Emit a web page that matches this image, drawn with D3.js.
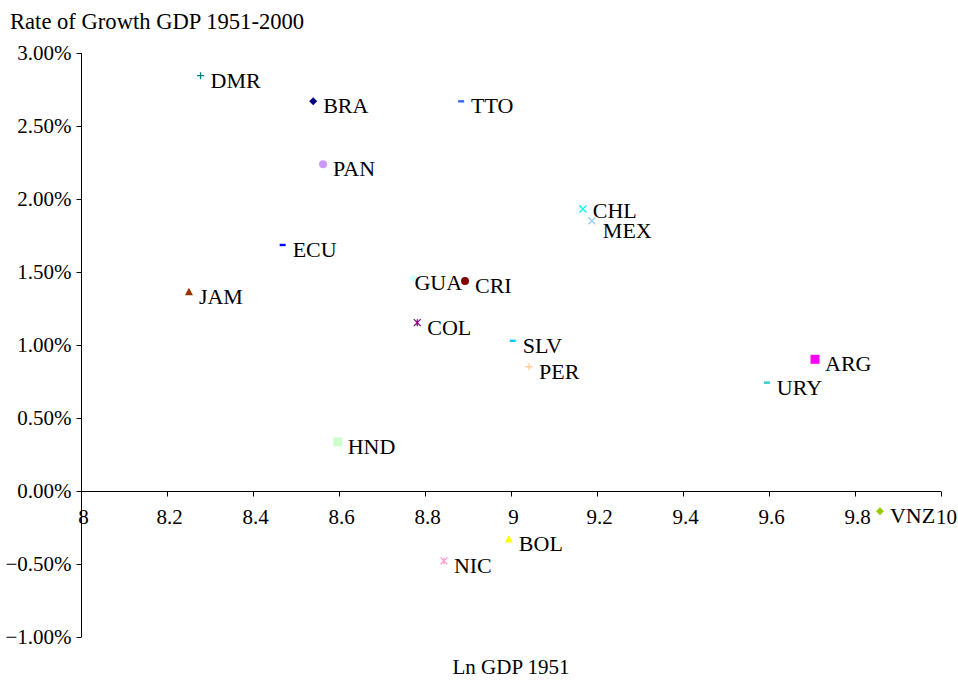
<!DOCTYPE html>
<html><head><meta charset="utf-8">
<script src="https://cdn.jsdelivr.net/npm/d3@7"></script>
<style>body{margin:0;background:#fff}svg{display:block}text{font-family:"Liberation Serif","Times New Roman",serif;fill:#000}</style>
</head><body><svg id="c" width="958" height="682"></svg>
<script>
const countries = ["DMR","BRA","PAN","TTO","ECU","JAM","GUA","CRI","COL","SLV","PER","CHL","MEX","ARG","URY","HND","BOL","NIC","VNZ"];
const lnGDP1951 = [8.278,8.540,8.563,8.884,8.469,8.251,8.773,8.893,8.782,9.004,9.042,9.167,9.188,9.707,9.595,8.597,8.995,8.844,9.858];
const growth = [0.02845,0.02669,0.02238,0.02669,0.01685,0.01365,0.01457,0.01438,0.01153,0.01029,0.00851,0.01932,0.01851,0.00902,0.00742,0.00336,-0.00329,-0.00479,-0.00139];
const markerShapes = ["plus","diamond","circle","dash","dash","triangle","diamond","circle","asterisk","dash","plus","cross","cross","square","dash","square","triangle","asterisk","diamond"];
const markerColors = ["#008080","#000080","#CC99FF","#3366FF","#0000FF","#993300","#CCFFFF","#800000","#800080","#00CCFF","#FFCC99","#00FFFF","#99CCFF","#FF00FF","#33CCCC","#CCFFCC","#FFFF00","#FF99CC","#99CC00"];
const xTicks = [8,8.2,8.4,8.6,8.8,9,9.2,9.4,9.6,9.8,10];
const yTicks = [-0.01,-0.005,0,0.005,0.01,0.015,0.02,0.025,0.03];
const titleY = "Rate of Growth GDP 1951-2000";
const titleX = "Ln GDP 1951";

const FONT = "Liberation Serif";
const svg = d3.select("#c");
const L=81, R=941, T=53, B=637;
const x = d3.scaleLinear().domain([8,10]).range([L,R]);
const y = d3.scaleLinear().domain([-0.01,0.03]).range([B,T]);

// y axis
const ya = svg.append("g").attr("transform",`translate(${L+0.5},0)`)
  .call(d3.axisLeft(y).tickValues(yTicks).tickFormat(d3.format(".2%")).tickSize(5).tickPadding(5));
ya.attr("font-family",FONT);
ya.select(".domain").attr("stroke","#000").attr("d",`M0,${T}V${B}`);
ya.selectAll(".tick line").attr("stroke","#000");
ya.selectAll(".tick text").style("font-size","21px").attr("fill","#000").style("font-family",FONT);

// x axis at y=0
const xa = svg.append("g").attr("transform",`translate(0,${Math.round(y(0))+0.5})`)
  .call(d3.axisBottom(x).tickValues(xTicks).tickFormat(d3.format("")).tickSize(5).tickPadding(13));
xa.attr("font-family",FONT);
xa.select(".domain").attr("stroke","#000").attr("d",`M${L},0H${R}`);
xa.selectAll(".tick line").attr("stroke","#000");
xa.selectAll(".tick text").style("font-size","21px").attr("fill","#000").style("font-family",FONT)
  .attr("dx", d => d===10 ? 5 : 2);

svg.append("text").attr("x",10).attr("y",29).style("font-size","22.6px").text(titleY);
svg.append("text").attr("x",(L+R)/2).attr("y",674).attr("text-anchor","middle").style("font-size","21px").text(titleX);

function drawMarker(g, shape, color){
  const s=3.5;
  switch(shape){
    case "plus": g.append("path").attr("d",`M${-s},0H${s}M0,${-s}V${s}`).attr("stroke",color).attr("stroke-width",1.3).attr("fill","none"); break;
    case "cross": g.append("path").attr("d",`M${-s},${-s}L${s},${s}M${-s},${s}L${s},${-s}`).attr("stroke",color).attr("stroke-width",1.3).attr("fill","none"); break;
    case "asterisk": g.append("path").attr("d",`M${-s},${-s}L${s},${s}M${-s},${s}L${s},${-s}M0,${-s}V${s}`).attr("stroke",color).attr("stroke-width",1.2).attr("fill","none"); break;
    case "diamond": g.append("path").attr("d",`M0,${-4}L4,0L0,4L-4,0Z`).attr("fill",color); break;
    case "circle": g.append("circle").attr("r",4).attr("fill",color); break;
    case "square": g.append("rect").attr("x",-4.5).attr("y",-4.5).attr("width",9).attr("height",9).attr("fill",color); break;
    case "triangle": g.append("path").attr("d",`M0,-4L4,3.5L-4,3.5Z`).attr("fill",color); break;
    case "dash": g.append("rect").attr("x",-3).attr("y",-1.2).attr("width",6).attr("height",2.4).attr("fill",color); break;
  }
}

const labelDx = {GUA:1, MEX:11};
const labelDy = {MEX:17, CHL:9};
const pts = svg.append("g");
countries.forEach((c,i)=>{
  const g = pts.append("g").attr("transform",`translate(${x(lnGDP1951[i])},${y(growth[i])})`);
  drawMarker(g, markerShapes[i], markerColors[i]);
});
countries.forEach((c,i)=>{
  pts.append("text")
    .attr("x",x(lnGDP1951[i])+(labelDx[c]!==undefined?labelDx[c]:10))
    .attr("y",y(growth[i])+(labelDy[c]!==undefined?labelDy[c]:12))
    .style("font-size","22px").text(c);
});
</script></body></html>
